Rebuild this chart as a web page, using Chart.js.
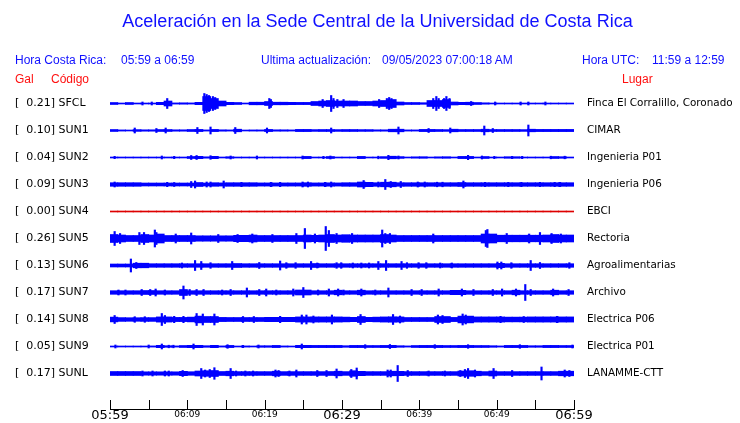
<!DOCTYPE html>
<html>
<head>
<meta charset="utf-8">
<script src="https://cdn.jsdelivr.net/npm/chart.js@4.4.1/dist/chart.umd.min.js"></script>
<style>
  body { margin: 0; background: #fff; }
  #wrap { position: relative; width: 740px; height: 423px; }
  #wrap canvas { position: absolute; left: 0; top: 0; }
  .hdr { position: absolute; font: 12px "Liberation Sans", Arial, sans-serif; line-height: 14px; white-space: nowrap; }
  .blue { color: #1010ff; }
  .red { color: #ff1010; }
</style>
</head>
<body>
<div id="wrap">
  <canvas id="sismo" width="740" height="423"></canvas>
  <span class="hdr blue" style="left:15px;top:53px">Hora Costa Rica:</span>
  <span class="hdr blue" style="left:121px;top:53px">05:59 a 06:59</span>
  <span class="hdr blue" style="left:261px;top:53px">Ultima actualización:</span>
  <span class="hdr blue" style="left:382px;top:53px">09/05/2023 07:00:18 AM</span>
  <span class="hdr blue" style="left:582px;top:53px">Hora UTC:</span>
  <span class="hdr blue" style="left:652px;top:53px">11:59 a 12:59</span>
  <span class="hdr red" style="left:15px;top:72px">Gal</span>
  <span class="hdr red" style="left:51px;top:72px">Código</span>
  <span class="hdr red" style="left:622px;top:72px">Lugar</span>
</div>
<script>
// stations, top to bottom
const codes = ['SFCL','SUN1','SUN2','SUN3','SUN4','SUN5','SUN6','SUN7','SUN8','SUN9','SUNL'];
const places = ['Finca El Corralillo, Coronado','CIMAR','Ingenieria P01','Ingenieria P06','EBCI','Rectoria',
  'Agroalimentarias','Archivo','Electrica P06','Electrica P01','LANAMME-CTT'];
const peaks = [0.21, 0.10, 0.04, 0.09, 0.00, 0.26, 0.13, 0.17, 0.14, 0.05, 0.17];
const tickLabels = ['05:59','','06:09','','06:19','','06:29','','06:39','','06:49','','06:59'];

// trace envelope per minute (half height) and isolated peaks [minute, half height]
const sfclCore = [1.0,0.5,1.0,0.5,0.5,0.5,1.2,2.5,0.6,0.7, 0.6,1.2,7,5,2.5,1.2,1.0,0.5,1.3,1.3,
  2.0,1.3,1.3,1.2,1.1,1.1,2.0,2.5,3.0,2.5, 2.5,2.5,2.0,2.0,2.5,3.0,4.0,1.5,1.0,1.0,
  0.8,3.0,3.0,4.0,1.5,1.2,1.3,1.0,0.7,0.5, 0.5,0.5,0.5,0.5,0.5,0.5,0.5,0.5,0.5,0.5];
const sun1Core = [1.0,0.6,0.5,0.9,0.7,0.7,1.0,1.0,0.7,0.7, 1.0,1.1,0.6,1.1,0.7,0.6,1.3,0.5,0.6,0.6,
  1.1,0.7,0.7,0.6,1.1,1.1,0.9,1.0,1.0,0.9, 1.0,1.0,0.9,0.9,0.7,0.7,1.3,1.3,0.6,0.6,
  1.1,1.1,1.0,0.9,1.3,1.0,1.0,1.0,1.3,1.0, 1.0,1.0,1.0,0.9,1.3,1.1,1.1,1.1,1.1,1.1];
const sun2Core = [0.5,0.5,0.5,0.5,0.5,0.5,0.5,0.5,0.5,0.5, 1.0,1.2,0.7,1.2,0.5,0.8,0.5,0.5,0.5,0.5,
  0.5,0.5,0.5,0.5,0.5,1.1,0.5,0.5,1.0,0.5, 0.5,0.5,1.1,0.5,0.5,0.9,1.3,0.9,0.5,0.7,
  0.8,0.5,0.7,0.8,0.5,1.1,1.1,0.5,1.0,0.5, 0.5,0.8,0.8,0.5,0.5,0.5,0.5,1.0,0.8,0.5];
const sun3Core = [1.8,1.8,1.8,1.8,1.5,1.5,1.5,1.5,1.5,1.5, 1.5,2.0,1.5,1.8,1.6,1.8,1.8,1.8,1.8,1.6,
  1.6,1.6,1.6,1.6,1.6,1.8,1.6,1.6,1.7,1.6, 1.8,1.8,2.5,2.2,1.8,2.3,2.3,1.8,1.8,1.8,
  1.8,1.8,1.8,1.8,1.8,2.0,1.8,1.8,1.8,1.8, 1.8,1.8,1.8,1.8,1.8,1.8,1.8,1.8,1.8,1.8];
const sun4Core = [0,0,0,0,0,0,0,0,0,0, 0,0,0,0,0,0,0,0,0,0, 0,0,0,0,0,0,0,0,0,0,
  0,0,0,0,0,0,0,0,0,0, 0,0,0,0,0,0,0,0,0,0, 0,0,0,0,0,0,0,0,0,0];
const sun5Core = [4,3.5,3,3,4,3.5,4.5,3,3,3, 3,2.7,2.7,2.7,2.7,2.7,3.2,3.2,3.5,3,
  3,3,3,3,3,3.5,3.2,3.5,4,3.5, 3.8,3.5,3.5,3.5,3.5,4,3.5,3,3,3,
  3,3,3,3,3,3,3,3,4.5,4.5, 3.3,3.3,3.3,3.3,3.3,3.3,3.5,4,3.5,3.5];
const sun6Core = [1.5,1.5,1.5,2.3,2.3,1.8,1.8,1.8,1.8,1.8, 1.8,1.8,1.8,1.8,1.8,1.8,2.0,1.8,1.8,1.8,
  1.8,1.8,1.8,1.8,1.8,1.8,2.0,1.8,1.8,1.8, 1.8,1.8,1.8,1.8,1.8,1.8,1.8,1.8,1.8,1.8,
  1.8,1.8,1.8,1.8,1.8,1.8,1.8,1.8,1.8,1.8, 2.2,1.8,1.8,1.8,1.8,1.8,1.8,1.8,1.8,1.8];
const sun7Core = [1.8,1.8,1.8,1.8,2.0,2.0,1.8,1.8,1.8,3.0, 1.8,1.8,1.8,1.8,1.8,1.8,1.8,1.8,1.8,1.8,
  1.8,1.8,1.8,1.8,2.5,2.5,1.8,1.8,1.8,2.3, 1.8,1.8,2.3,1.8,1.8,1.8,1.8,1.8,1.8,1.8,
  1.8,1.8,1.8,1.8,2.2,2.2,1.8,1.8,1.8,1.8, 1.8,1.8,2.3,1.8,1.8,1.8,1.8,2.3,1.8,1.8];
const sun8Core = [2.4,1.9,1.8,1.8,1.9,1.9,2.6,2.6,2.1,2.1, 2.4,3.4,3.0,3.0,2.1,2.0,2.0,2.0,2.0,2.0,
  2.2,2.2,2.2,2.2,2.6,2.6,2.6,2.6,2.6,2.6, 2.4,2.2,3.0,2.2,2.4,2.6,2.7,2.6,2.0,2.0,
  2.0,2.0,3.0,3.0,2.1,3.4,3.4,2.6,2.6,2.6, 2.6,2.4,2.4,2.4,2.6,2.6,2.6,2.6,2.6,2.6];
const sun9Core = [0.5,0.5,0.5,0.5,0.5,0.6,1.2,0.8,0.6,1.0, 1.2,1.2,0.8,1.2,0.6,1.1,0.5,0.6,0.5,0.8,
  0.8,1.1,0.6,0.5,1.2,1.2,1.1,1.1,1.1,1.1, 0.8,1.1,1.1,1.0,1.0,1.1,1.2,0.8,0.6,1.0,
  1.1,1.1,1.1,1.0,1.0,1.1,1.1,1.0,1.0,0.8, 0.6,1.1,1.1,1.1,0.8,0.8,1.1,1.1,1.0,1.0];
const sunlCore = [2.0,2.0,2.0,2.0,1.7,1.7,1.7,1.7,1.7,2.2, 1.8,2.5,2.8,3.0,2.0,2.3,1.9,1.9,1.9,1.9,
  1.9,2.3,1.9,1.9,1.9,1.9,1.9,1.9,2.0,2.3, 1.9,2.8,2.2,1.9,1.9,1.9,2.3,2.2,1.9,1.9,
  1.9,1.9,1.9,1.9,1.9,2.5,2.8,2.3,1.9,2.5, 1.9,1.9,1.9,1.9,1.9,1.9,1.9,1.9,2.3,2.3];

const sfclSpikes = [[4.2,1.5],[5.4,1.5],[7.4,5],[12.2,10],[12.5,9],[12.8,8],[13.3,7],[13.6,6],[20.6,5],[20.8,4],
  [27.5,4],[28.6,8],[28.9,5],[29.4,4],[30.2,4],[34.8,4],[35.8,5],[36.1,6],[36.4,5],[41.8,5],[42.2,7],[42.5,5],
  [43.2,5],[43.5,7],[43.9,5],[46.7,2],[49.8,1.5],[53.1,1.5],[54.1,1.5],[56.3,1.5]];
const sun1Spikes = [[3.2,2.5],[6.0,2],[7.2,2.5],[11.3,3],[13.0,3.5],[16.2,3],[20.3,2.5],[28.6,2.5],[37.3,3.5],
  [41.2,2],[44.0,2.5],[48.4,4.5],[49.5,2],[54.1,5.5]];
const sun2Spikes = [[0.6,1.2],[6.7,1.5],[8.3,1.2],[10.5,2],[11.2,2],[13.0,1.8],[15.6,1.5],[19.0,1.5],[24.9,1.5],
  [27.6,1.2],[28.5,1.5],[34.7,1.3],[36.0,2.2],[37.3,1.5],[46.3,2.2],[48.1,1.5],[49.7,1.2],[52.0,1.2],[53.3,1.2],
  [57.0,1.3],[58.8,1.3]];
const sun3Spikes = [[0.6,2.5],[7.4,2.2],[8.3,2],[10.5,3],[11.0,3.5],[12.5,2.5],[13.0,2.5],[14.7,3.5],[17.0,2.2],
  [20.8,2.2],[22.0,2.2],[24.9,2.5],[25.6,2.5],[27.8,2.2],[28.6,2.5],[32.8,4],[34.7,2.5],[35.6,5],[36.3,3],
  [37.6,3],[39.8,2.5],[40.7,2.5],[42.3,2.3],[43.0,2.3],[45.7,3.5],[48.5,2.2],[51.5,2.2],[53.2,2.2],[55.6,2.2],
  [57.5,2.2],[58.2,2.2]];
const sun4Spikes = [];
const sun5Spikes = [[0.6,7],[1.3,5],[3.8,6],[4.4,6],[5.8,8.5],[6.0,6],[8.5,4.5],[10.5,5.5],[14.0,4],[16.5,4],
  [18.4,4.5],[21.0,4],[24.1,5],[25.2,10],[26.5,4.5],[27.9,12],[28.3,8],[29.3,5],[31.3,5],[35.2,8.5],[35.6,5],
  [36.2,5],[41.8,4.5],[48.6,8],[48.8,9],[51.3,5],[54.2,4.5],[55.6,6],[57.1,5],[58.3,4.5]];
const sun6Spikes = [[2.7,6.5],[3.4,3],[9.3,2.5],[11.0,5],[11.8,4],[13.0,2.8],[15.8,4],[19.3,3],[22.0,4.5],
  [22.8,2.8],[24.0,2.8],[26.0,4],[26.8,2.5],[29.3,2.8],[29.9,2.8],[31.4,2.5],[32.5,2.5],[33.5,2.5],[34.7,4],
  [35.7,5],[37.7,4],[38.4,2.8],[39.9,2.8],[40.9,2.8],[42.7,2.5],[44.2,2.5],[50.1,3.5],[50.6,3.5],[51.9,2.8],
  [54.4,5],[55.6,3],[59.4,2.8]];
const sun7Spikes = [[1.1,2.5],[2.0,2.5],[4.1,3],[5.2,3],[5.9,3.5],[7.1,2.5],[9.5,6.5],[10.3,3],[11.2,3],[12.1,3],
  [14.5,2.5],[15.6,3],[17.7,4.5],[19.3,3],[20.2,3.5],[21.5,2.5],[23.7,3.5],[25.0,5],[26.9,2.5],[28.3,3.5],
  [29.5,3.5],[30.2,2.5],[32.5,3.5],[34.3,2.5],[36.0,4.5],[39.0,3],[40.3,3],[42.5,3.5],[45.5,3.5],[47.0,3],
  [49.5,3],[50.7,3.5],[52.5,3.5],[53.7,8],[54.4,3],[57.3,3.5],[59.3,3]];
const sun8Spikes = [[0.6,4],[3.2,2.8],[4.5,2.8],[6.7,6],[7.1,4],[8.3,3.2],[9.5,3.2],[11.2,6],[12.0,5.5],[13.5,5.5],
  [17.2,3],[18.6,3],[22.0,3.2],[24.8,4.5],[25.4,4.5],[26.3,3.5],[28.7,4.5],[32.4,5],[36.6,5],[37.5,3.5],
  [42.4,4.5],[43.0,4],[45.6,5.5],[46.0,4.5],[50.5,3.2],[53.5,3],[57.8,3.2]];
const sun9Spikes = [[0.7,1.5],[5.0,1.5],[6.7,2.5],[7.6,1.3],[8.2,1.3],[10.8,2.5],[15.2,1.8],[17.2,1.2],[19.2,1.5],
  [24.8,2.5],[33.0,1.8],[36.2,2],[42.0,1.8],[46.3,1.8],[53.0,1.8],[59.8,1.5]];
const sunlSpikes = [[4.2,2.5],[5.5,2.5],[7.1,2.5],[7.6,2.5],[9.4,3],[11.8,5],[12.3,3.5],[12.9,4],[13.5,5.8],
  [15.6,5],[16.3,2.5],[17.5,2.5],[18.5,2.5],[21.4,3.5],[21.8,3],[23.2,2.5],[24.1,3.5],[26.8,3],[28.0,3],
  [29.3,4.5],[31.2,4],[31.9,5.5],[35.9,3.5],[36.3,3.5],[37.2,8],[38.5,3],[41.2,2.5],[43.3,2.5],[45.3,3],
  [45.9,4],[46.3,5],[47.2,3.5],[49.6,5],[52.0,3],[55.8,6.5],[58.8,3.5],[59.4,3]];

const cores = [sfclCore, sun1Core, sun2Core, sun3Core, sun4Core, sun5Core, sun6Core, sun7Core, sun8Core, sun9Core, sunlCore];
const spikes = [sfclSpikes, sun1Spikes, sun2Spikes, sun3Spikes, sun4Spikes, sun5Spikes, sun6Spikes, sun7Spikes, sun8Spikes, sun9Spikes, sunlSpikes];

const ROW = 27;          // vertical gap between traces
const BLUE = '#0000ff';
const RED = '#dd0000';
const yMin = -14.5, yMax = 305.5;

const datasets = [];
cores.forEach((core, i) => {
  const base = i * ROW;
  datasets.push({
    data: core.map((a, m) => { const h = Math.max(a, 0.5); return { x: m + 0.5, y: [base - h, base + h] }; }),
    backgroundColor: codes[i] === 'SUN4' ? RED : BLUE,
    barThickness: 8, grouped: false, borderWidth: 0
  });
  datasets.push({
    data: spikes[i].map(([m, a]) => ({ x: m, y: [base - a, base + a] })),
    backgroundColor: BLUE,
    barThickness: 1.5, grouped: false, borderWidth: 0
  });
});

// tick marks drawn upward from the time axis
const innerTicks = {
  id: 'innerTicks',
  afterDraw(chart) {
    const x = chart.scales.x, ctx = chart.ctx, bottom = chart.chartArea.bottom;
    ctx.save();
    ctx.strokeStyle = '#000';
    ctx.lineWidth = 1;
    x.ticks.forEach(t => {
      const px = Math.round(x.getPixelForValue(t.value)) + 0.5;
      ctx.beginPath(); ctx.moveTo(px, bottom - 9); ctx.lineTo(px, bottom); ctx.stroke();
    });
    ctx.restore();
  }
};

const stationTicks = s => { s.ticks = codes.map((c, i) => ({ value: i * ROW })); };

new Chart(document.getElementById('sismo'), {
  type: 'bar',
  data: { datasets },
  plugins: [innerTicks],
  options: {
    responsive: false,
    animation: false,
    layout: { padding: { left: 15, right: 0, top: 0, bottom: 0 } },
    plugins: {
      legend: { display: false },
      tooltip: { enabled: false },
      title: {
        display: true,
        text: 'Aceleración en la Sede Central de la Universidad de Costa Rica',
        color: '#1010ff',
        font: { family: '"Liberation Sans", Arial, sans-serif', size: 18, weight: 'normal', lineHeight: 1.2 },
        padding: { top: 11, bottom: 56.4 }
      }
    },
    scales: {
      x: {
        type: 'linear', min: 0, max: 60, offset: false,
        grid: { display: false, drawTicks: false, offset: false },
        border: { display: true, color: '#000', width: 1 },
        afterFit: s => { s.height = 14; },
        ticks: {
          stepSize: 5, autoSkip: false, maxRotation: 0, padding: 0, color: '#000',
          callback: (v, i) => tickLabels[i],
          font: ctx => (ctx.index % 6 === 0)
            ? { family: '"DejaVu Sans", sans-serif', size: 13, lineHeight: 14 / 13 }
            : { family: '"DejaVu Sans", sans-serif', size: 9, lineHeight: 12 / 9 }
        }
      },
      y: {
        type: 'linear', position: 'left', reverse: true, min: yMin, max: yMax,
        grid: { display: false, drawTicks: false },
        border: { display: false },
        afterBuildTicks: stationTicks,
        afterFit: s => { s.width = 95; },
        ticks: {
          autoSkip: false, crossAlign: 'far', padding: 0, color: '#000',
          font: { family: '"DejaVu Sans", sans-serif', size: 11 },
          callback: (v, i) => '[  ' + peaks[i].toFixed(2) + '] ' + codes[i]
        }
      },
      y2: {
        type: 'linear', position: 'right', reverse: true, min: yMin, max: yMax,
        // hidden tick length keeps the place names 13px off the plot
        grid: { display: false, drawTicks: true, tickLength: 13 },
        border: { display: false },
        afterBuildTicks: stationTicks,
        afterFit: s => { s.width = 166; },
        ticks: {
          autoSkip: false, crossAlign: 'near', padding: 0, color: '#000',
          font: { family: '"DejaVu Sans", sans-serif', size: 10.4 },
          callback: (v, i) => places[i]
        }
      }
    }
  }
});
</script>
</body>
</html>
